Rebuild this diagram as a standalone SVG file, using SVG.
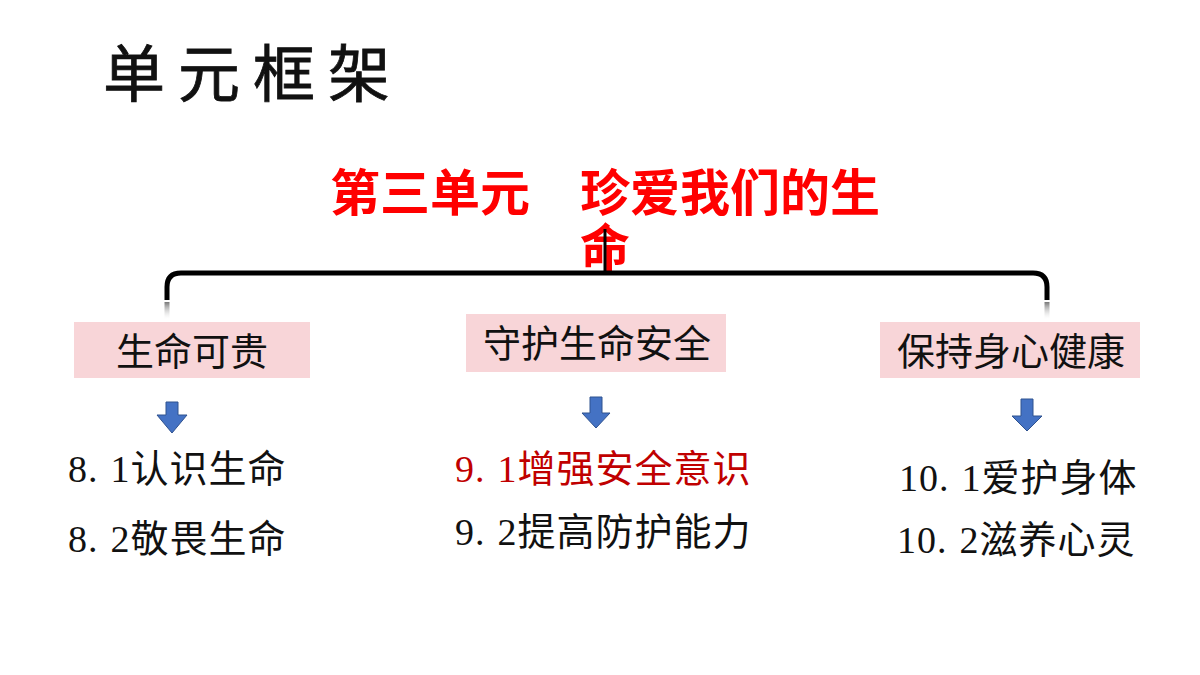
<svg xmlns="http://www.w3.org/2000/svg" width="1200" height="675" viewBox="0 0 1200 675">
  <defs>
    <style>
      .cjk { font-family: "Liberation Serif", "Noto Sans CJK SC", serif; }
      .box { fill: #F8D5D8; }
      .boxtxt { font-size: 38px; fill: #111; text-anchor: middle; }
      .item { font-size: 38px; fill: #111; letter-spacing: 1px; }
      .dot { letter-spacing: 13px; }
      .arrow { fill: #4472C4; stroke: #2F528F; stroke-width: 1; }
      .brace { fill: none; stroke: #000; stroke-width: 5; stroke-linecap: butt; }
    </style>
    <linearGradient id="fade" x1="0" y1="0" x2="0" y2="1">
      <stop offset="0" stop-color="#777"/>
      <stop offset="1" stop-color="#fff" stop-opacity="0.2"/>
    </linearGradient>
  </defs>
  <rect width="1200" height="675" fill="#fff"/>

  <g id="page-title">
    <text class="cjk" x="103" y="97" font-size="62" letter-spacing="13" fill="#111" stroke="#111" stroke-width="0.8">单元框架</text>
  </g>

  <g id="unit-title">
    <text class="cjk" x="330" y="211" font-size="50" font-weight="bold" fill="#FF0000">第三单元　珍爱我们的生</text>
    <text class="cjk" x="580" y="266" font-size="50" font-weight="bold" fill="#FF0000">命</text>
  </g>

  <g id="connectors">
    <path class="brace" d="M167,300 L167,287 Q167,273 181,273 L1033,273 Q1047,273 1047,287 L1047,300"/>
    <line x1="605" y1="229" x2="605" y2="273" stroke="#000" stroke-width="3"/>
    <rect x="164.5" y="302" width="5" height="17" fill="url(#fade)"/>
    <rect x="1044.5" y="302" width="5" height="17" fill="url(#fade)"/>
    <path class="arrow" d="M166,402 L178,402 L178,415 L187,415 L172,433 L157,415 L166,415 Z"/>
    <path class="arrow" d="M590,397 L602,397 L602,413 L610,413 L596,428 L582,413 L590,413 Z"/>
    <path class="arrow" d="M1021,399 L1033,399 L1033,416 L1042,416 L1027,431 L1012,416 L1021,416 Z"/>
  </g>

  <g id="node-1">
    <rect class="box" x="74" y="322" width="236" height="56"/>
    <text class="cjk boxtxt" x="192" y="365">生命可贵</text>
  </g>
  <g id="node-2">
    <rect class="box" x="466" y="314" width="260" height="58"/>
    <text class="cjk boxtxt" x="597" y="357">守护生命安全</text>
  </g>
  <g id="node-3">
    <rect class="box" x="880" y="322" width="260" height="56"/>
    <text class="cjk boxtxt" x="1011" y="365">保持身心健康</text>
  </g>

  <g id="items-1">
    <text class="cjk item" x="68" y="482">8<tspan class="dot">.</tspan>1认识生命</text>
    <text class="cjk item" x="68" y="552">8<tspan class="dot">.</tspan>2敬畏生命</text>
  </g>
  <g id="items-2">
    <text class="cjk item" x="455" y="482" style="fill:#C00000">9<tspan class="dot">.</tspan>1增强安全意识</text>
    <text class="cjk item" x="455" y="545">9<tspan class="dot">.</tspan>2提高防护能力</text>
  </g>
  <g id="items-3">
    <text class="cjk item" x="899" y="491">10<tspan class="dot">.</tspan>1爱护身体</text>
    <text class="cjk item" x="897" y="553">10<tspan class="dot">.</tspan>2滋养心灵</text>
  </g>
</svg>
